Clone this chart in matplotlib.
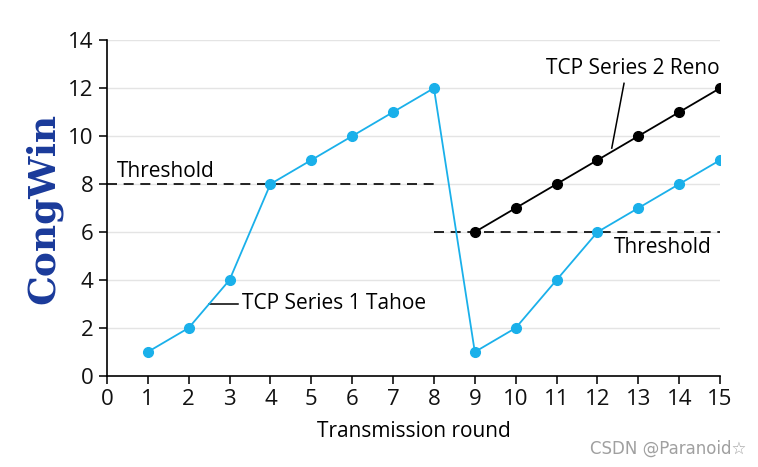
import matplotlib.pyplot as plt

rounds = list(range(1, 16))
tahoe = [1, 2, 4, 8, 9, 10, 11, 12, 1, 2, 4, 6, 7, 8, 9]
reno_rounds = list(range(9, 16))
reno = [6, 7, 8, 9, 10, 11, 12]
yticks = list(range(0, 15, 2))
xticks = list(range(0, 16))

plt.rcParams['font.family'] = ['Open Sans', 'DejaVu Sans']

fig = plt.figure(figsize=(7.58, 4.67), dpi=100)
ax = fig.add_axes([0.141, 0.195, 0.809, 0.719])

for y in yticks[1:]:
    ax.axhline(y, color='#e4e4e4', lw=1, zorder=0)

ax.plot(rounds, tahoe, color='#1ab0ea', lw=1.3, marker='o', ms=7, zorder=3)
ax.plot(reno_rounds, reno, color='black', lw=1.3, marker='o', ms=7, zorder=3)

ax.plot([0, 8], [8, 8], color='black', lw=1.2, ls=(0, (6, 4)))
ax.plot([8, 15], [6, 6], color='black', lw=1.2, ls=(0, (6, 4)))
ax.text(0.25, 8.1, 'Threshold', fontsize=15, va='bottom')
ax.text(12.4, 5.8, 'Threshold', fontsize=15, va='top')

ax.plot([2.5, 3.2], [3.0, 3.0], color='black', lw=1.1)
ax.text(3.3, 3.0, 'TCP Series 1 Tahoe', fontsize=15, va='center')
ax.plot([12.35, 12.65], [9.5, 12.2], color='black', lw=1.1)
ax.text(15, 12.4, 'TCP Series 2 Reno', fontsize=15, ha='right', va='bottom')

ax.set_xlim(0, 15)
ax.set_ylim(0, 14)
ax.set_xticks(xticks)
ax.set_yticks(yticks)
ax.tick_params(labelsize=16, direction='out', length=6, width=1.2, colors='#111111')
ax.spines['top'].set_visible(False)
ax.spines['right'].set_visible(False)
ax.spines['left'].set_linewidth(1.2)
ax.spines['bottom'].set_linewidth(1.2)
ax.set_xlabel('Transmission round', fontsize=15, labelpad=8)
ax.set_ylabel('CongWin', fontsize=27, fontweight='bold', family='DejaVu Serif',
              color='#1a3a9a', labelpad=4)

fig.text(0.985, 0.02, 'CSDN @Paranoid☆', fontsize=12, color='#a0a0a0',
         ha='right', va='bottom', family=['DejaVu Sans'])

fig.savefig('out.png')
